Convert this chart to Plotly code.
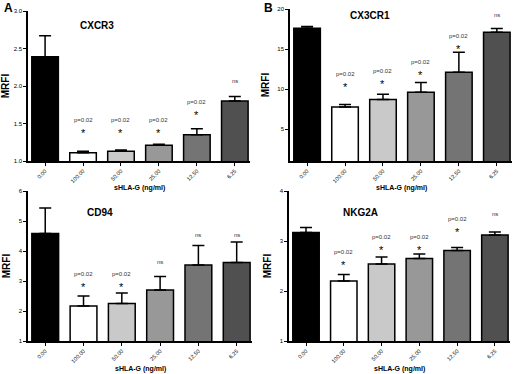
import plotly.graph_objects as go

categories = ["0.00", "100.00", "50.00", "25.00", "12.50", "6.25"]
bar_colors = ["#000000", "#ffffff", "#c9c9c9", "#989898", "#747474", "#505050"]

cxcr3_mean = [2.39, 1.11, 1.13, 1.21, 1.35, 1.80]
cxcr3_err = [0.28, 0.02, 0.015, 0.012, 0.08, 0.06]
cx3cr1_mean = [17.6, 7.75, 8.7, 9.6, 12.1, 17.1]
cx3cr1_err = [0.2, 0.3, 0.65, 1.2, 2.5, 0.45]
cd94_mean = [4.58, 2.17, 2.25, 2.7, 3.53, 3.62]
cd94_err = [0.85, 0.33, 0.35, 0.45, 0.65, 0.68]
nkg2a_mean = [3.17, 2.2, 2.54, 2.65, 2.81, 3.12]
nkg2a_err = [0.1, 0.13, 0.14, 0.09, 0.06, 0.06]

# significance labels per bar ("" = none)
cxcr3_sig = ["", "p", "p", "p", "p", "ns"]
cx3cr1_sig = ["", "p", "p", "p", "p", "ns"]
cd94_sig = ["", "p", "p", "ns", "ns", "ns"]
nkg2a_sig = ["", "p", "p", "p", "p", "ns"]
# label heights (data units)
cxcr3_lab_y = [0, 1.4, 1.4, 1.4, 1.64, 2.07]
cx3cr1_lab_y = [0, 10.5, 10.9, 12.0, 15.25, 19.25]
cd94_lab_y = [0, 2.88, 2.88, 3.63, 4.53, 4.53]
nkg2a_lab_y = [0, 2.56, 2.87, 2.87, 3.22, 3.54]

W, H = 520, 374
FONT = "Liberation Sans, Arial, sans-serif"

panels = [
    dict(name="CXCR3", mean=cxcr3_mean, err=cxcr3_err, sig=cxcr3_sig, laby=cxcr3_lab_y,
         px=(28, 250), py=(11, 161), yr=[1.0, 3.0], ticks=[1.0, 1.5, 2.0, 2.5, 3.0], fmt=".1f",
         title_xy=(97, 25), xt_y=188),
    dict(name="CX3CR1", mean=cx3cr1_mean, err=cx3cr1_err, sig=cx3cr1_sig, laby=cx3cr1_lab_y,
         px=(290, 512), py=(9, 161), yr=[1, 20], ticks=[5, 10, 15, 20], fmt="d",
         title_xy=(370, 16), xt_y=188),
    dict(name="CD94", mean=cd94_mean, err=cd94_err, sig=cd94_sig, laby=cd94_lab_y,
         px=(28, 252), py=(191, 341), yr=[1, 6], ticks=[1, 2, 3, 4, 5, 6], fmt="d",
         title_xy=(100, 213), xt_y=369),
    dict(name="NKG2A", mean=nkg2a_mean, err=nkg2a_err, sig=nkg2a_sig, laby=nkg2a_lab_y,
         px=(289, 510), py=(191, 341), yr=[1, 4], ticks=[1, 2, 3, 4], fmt="d",
         title_xy=(360, 213), xt_y=369),
]

fig = go.Figure()
layout = dict(
    template="none",
    width=W, height=H, margin=dict(l=0, r=0, t=0, b=0),
    paper_bgcolor="white", plot_bgcolor="white", showlegend=False,
    font=dict(family=FONT, color="black"),
)
annotations = []
xcat = list(range(len(categories)))
for i, p in enumerate(panels):
    n = "" if i == 0 else str(i + 1)
    xa, ya = "x" + n, "y" + n
    fig.add_trace(go.Bar(
        x=xcat, y=p["mean"], xaxis=xa, yaxis=ya,
        marker=dict(color=bar_colors, line=dict(color="black", width=1.5)),
        width=0.7,
        error_y=dict(type="data", symmetric=False, array=p["err"],
                     arrayminus=[0] * len(p["err"]), color="black", thickness=1.5, width=6),
        hoverinfo="skip",
    ))
    x0, x1 = p["px"]
    y0, y1 = p["py"]
    layout["xaxis" + n] = dict(
        domain=[x0 / W, x1 / W], anchor=ya, range=[-0.45, 5.4],
        tickmode="array", tickvals=xcat, ticktext=categories, tickangle=-45,
        tickfont=dict(size=5.5, family=FONT, color="black"), ticks="outside", ticklen=3,
        tickwidth=1, tickcolor="black",
        showline=True, linecolor="black", linewidth=1.5, showgrid=False, zeroline=False,
        fixedrange=True,
    )
    layout["yaxis" + n] = dict(
        domain=[1 - y1 / H, 1 - y0 / H], anchor=xa, range=p["yr"],
        tickmode="array", tickvals=p["ticks"], tickformat=p["fmt"],
        tickfont=dict(size=6, family=FONT, color="black"), ticks="outside", ticklen=3,
        tickwidth=1, tickcolor="black",
        showline=True, linecolor="black", linewidth=1.5, showgrid=False, zeroline=False,
        title=dict(text="<b>MRFI</b>", font=dict(size=10, family=FONT, color="black"), standoff=6),
        fixedrange=True,
    )
    annotations.append(dict(
        text="<b>sHLA-G (ng/ml)</b>", x=(x0 + x1) / 2 / W, y=1 - p["xt_y"] / H,
        xref="paper", yref="paper", showarrow=False, borderpad=0,
        font=dict(size=7, family=FONT, color="black"), xanchor="center", yanchor="middle"))
    annotations.append(dict(
        text="<b>" + p["name"] + "</b>", x=p["title_xy"][0] / W, y=1 - p["title_xy"][1] / H,
        xref="paper", yref="paper", showarrow=False,
        font=dict(size=10, family=FONT, color="black"), xanchor="center", yanchor="middle"))
    for j, s in enumerate(p["sig"]):
        if s == "p":
            annotations.append(dict(text="*", x=j, y=p["laby"][j], xref=xa, yref=ya,
                                    showarrow=False, font=dict(size=11, family=FONT, color="black"),
                                    yanchor="middle", yshift=-2))
            annotations.append(dict(text="p=0.02", x=j, y=p["laby"][j], xref=xa, yref=ya,
                                    showarrow=False, font=dict(size=6, family=FONT, color="#333333"),
                                    yanchor="middle", yshift=11))
        elif s == "ns":
            annotations.append(dict(text="ns", x=j, y=p["laby"][j], xref=xa, yref=ya,
                                    showarrow=False, font=dict(size=6, family=FONT, color="#333333"),
                                    yanchor="middle"))

annotations.append(dict(text="<b>A</b>", x=2 / W, y=1 - 8 / H, xref="paper", yref="paper",
                        showarrow=False, font=dict(size=12, family=FONT, color="black"),
                        xanchor="left", yanchor="middle"))
annotations.append(dict(text="<b>B</b>", x=262 / W, y=1 - 8 / H, xref="paper", yref="paper",
                        showarrow=False, font=dict(size=12, family=FONT, color="black"),
                        xanchor="left", yanchor="middle"))
layout["annotations"] = annotations
fig.update_layout(**layout)
fig.write_html("out.html", config={"displayModeBar": False},
               post_script="document.body.style.margin='0';document.body.style.overflow='hidden';")
